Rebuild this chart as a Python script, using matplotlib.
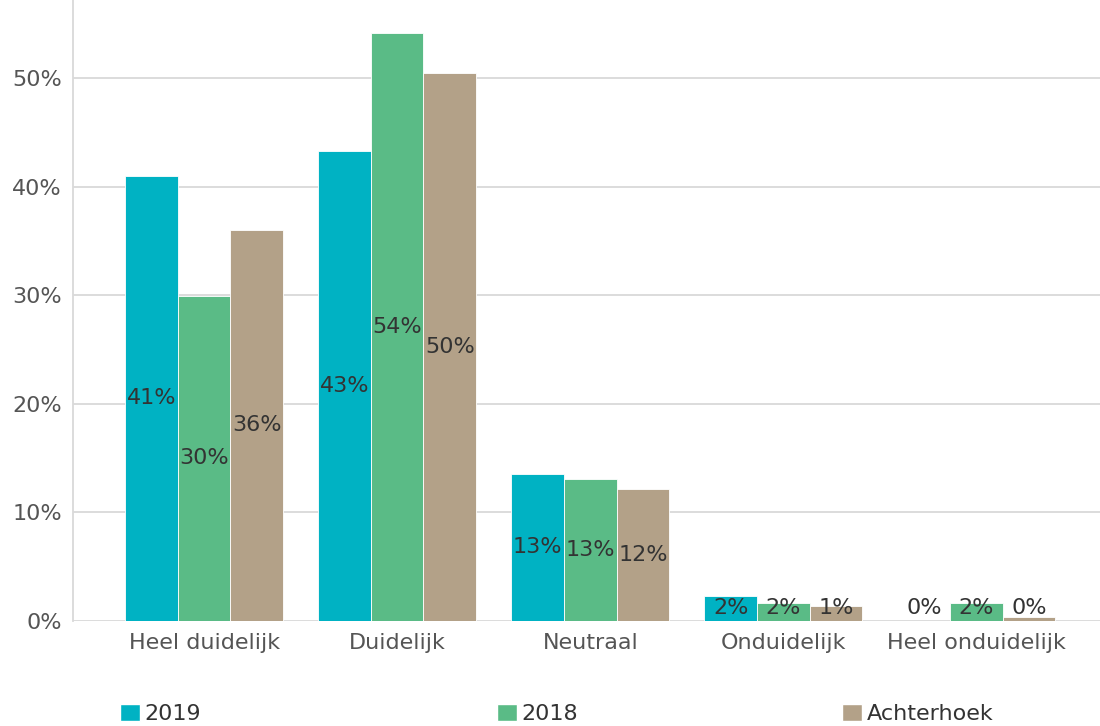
import numpy as np
import matplotlib
matplotlib.use('Agg')
import matplotlib.pyplot as plt
from matplotlib.patches import Patch

categories = ['Heel duidelijk', 'Duidelijk', 'Neutraal', 'Onduidelijk', 'Heel onduidelijk']
series     = ['2019', '2018', 'Achterhoek']
v2019      = [41.0, 43.3, 13.5, 2.3, 0.0]
v2018      = [29.9, 54.2, 13.1, 1.6, 1.6]
vachter    = [36.0, 50.5, 12.1, 1.4, 0.3]
labels2019 = ['41%', '43%', '13%', '2%', '0%']
labels2018 = ['30%', '54%', '13%', '2%', '2%']
labelsach  = ['36%', '50%', '12%', '1%', '0%']
yticks     = [0, 10, 20, 30, 40, 50]

colors = ['#00B2C3', '#5ABB86', '#B3A188']
FS = 16

fig = plt.figure(figsize=(11, 7.26), dpi=100)
ax = fig.add_axes([73/1100, (726-620.7)/726, 1-73/1100, 620.7/726])

x = np.arange(len(categories))
w = 0.2725
data = [v2019, v2018, vachter]
labs = [labels2019, labels2018, labelsach]
for k, (vals, lb) in enumerate(zip(data, labs)):
    xs = x + (k-1)*w
    ax.bar(xs, vals, w, color=colors[k], edgecolor='white', linewidth=0.6, zorder=3)
    for xi, v, t in zip(xs, vals, lb):
        ax.text(xi, max(v/2, 1.2), t, ha='center', va='center',
                fontsize=FS, color='#333333', zorder=4)

ax.set_xlim(-0.679, 4.64)
ax.set_ylim(0, 57.2)
ax.set_yticks(yticks)
ax.set_yticklabels([f'{t}%' for t in yticks])
ax.set_xticks(x)
ax.set_xticklabels(categories)
ax.tick_params(axis='both', length=0, labelsize=FS, colors='#555555')
ax.tick_params(axis='y', pad=8)
ax.tick_params(axis='x', pad=9)
ax.grid(axis='y', color='#d9d9d9', lw=1.3, zorder=0)
for s in ['top', 'right', 'bottom']:
    ax.spines[s].set_visible(False)
ax.spines['left'].set_color('#d9d9d9')
ax.spines['left'].set_linewidth(1.3)

# legenda onderaan, drie losse items
for k, xpos in enumerate([120/1100, 497/1100, 842/1100]):
    leg = fig.legend(handles=[Patch(facecolor=colors[k], edgecolor='white')],
                     labels=[series[k]], loc='center left',
                     bbox_to_anchor=(xpos, 12/726), frameon=False,
                     fontsize=FS, handlelength=0.9, handleheight=0.8,
                     handletextpad=0.2, borderpad=0, borderaxespad=0)
    for t in leg.get_texts():
        t.set_color('#333333')

fig.savefig('out.png', dpi=100)
